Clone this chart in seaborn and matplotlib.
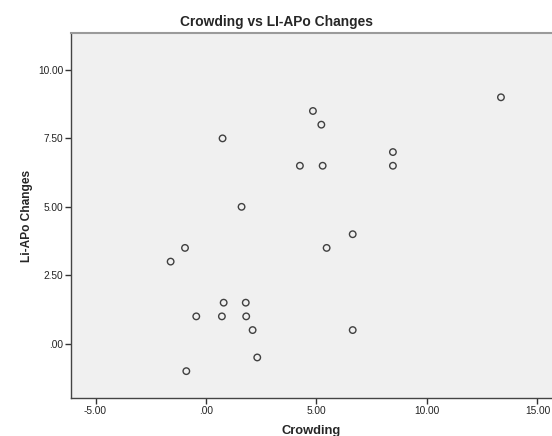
import matplotlib
matplotlib.use("Agg")
import pandas as pd
import matplotlib.pyplot as plt
import seaborn as sns

# values
crowding = [13.35, 4.84, 5.22, 0.75, 8.46, 4.25, 5.28, 8.46, 1.61, 6.64, -0.95,
            5.46, -1.60, 0.80, 1.80, -0.44, 0.72, 1.82, 2.11, 6.64, 2.32, -0.89]
li_apo = [9.0, 8.5, 8.0, 7.5, 7.0, 6.5, 6.5, 6.5, 5.0, 4.0, 3.5,
          3.5, 3.0, 1.5, 1.5, 1.0, 1.0, 1.0, 0.5, 0.5, -0.5, -1.0]
x_ticks = [-5, 0, 5, 10, 15]
y_ticks = [0, 2.5, 5, 7.5, 10]

df = pd.DataFrame({"Crowding": crowding, "LiAPo": li_apo})

sns.set_style("white")
plt.rcParams["font.family"] = ["Liberation Sans", "DejaVu Sans"]

fig = plt.figure(figsize=(5.52, 4.36), dpi=100)
ax = fig.add_axes([0.1286, 0.0872, 0.8714, 0.8360])
ax.set_facecolor("#f0f0f0")

sns.scatterplot(data=df, x="Crowding", y="LiAPo", ax=ax, marker="o", s=22,
                facecolor="none", edgecolor="#404040", linewidth=1.0)

ax.set_xlim(-6.11, 15.66)
ax.set_ylim(-1.98, 11.33)
ax.set_xticks(x_ticks)
ax.set_yticks(y_ticks)
ax.set_xticklabels(["-5.00", ".00", "5.00", "10.00", "15.00"])
ax.set_yticklabels([".00", "2.50", "5.00", "7.50", "10.00"])
ax.tick_params(axis="both", direction="out", length=4, width=1, color="#333333",
               labelsize=7.3, labelcolor="#222222", pad=1.5,
               bottom=True, left=True, top=False, right=False)

for side in ["left", "bottom"]:
    ax.spines[side].set_color("#444444")
    ax.spines[side].set_linewidth(1.0)
ax.spines["top"].set_color("#9a9a9a")
ax.spines["top"].set_linewidth(1.5)
ax.spines["right"].set_visible(False)

ax.set_xlabel("Crowding", fontsize=9.3, fontweight="bold", labelpad=7)
ax.set_ylabel("Li-APo Changes", fontsize=8.6, fontweight="bold", labelpad=4)
fig.text(0.5, 1 - 22 / 436, "Crowding vs LI-APo Changes", fontsize=9.9,
         fontweight="bold", ha="center", va="center")

fig.savefig("out.png", dpi=100, facecolor="white")
